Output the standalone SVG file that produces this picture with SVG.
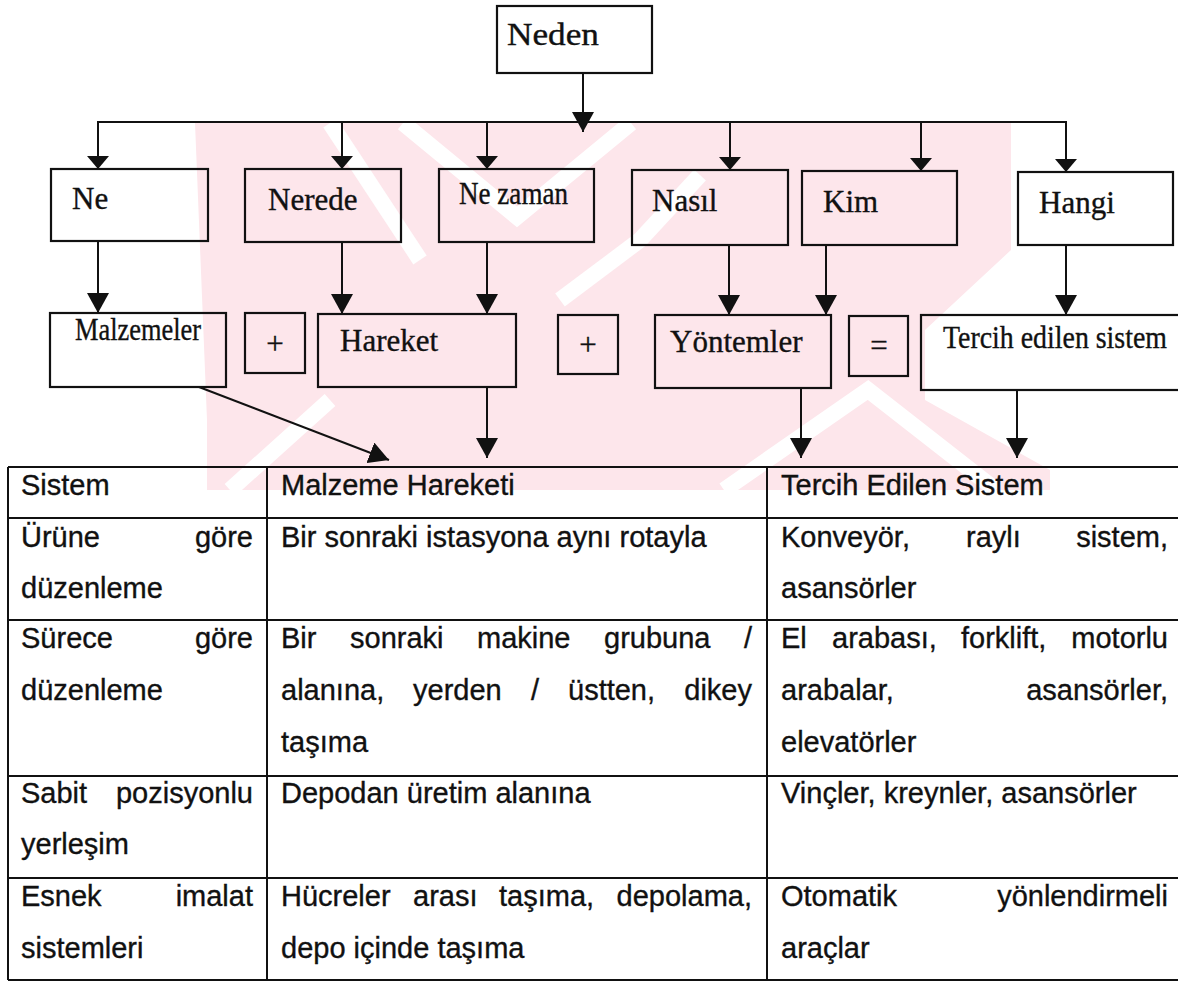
<svg xmlns="http://www.w3.org/2000/svg" width="1178" height="983" viewBox="0 0 1178 983">
<defs>
<style>
.bx{fill:none;stroke:#111;stroke-width:2.2}
.ln{fill:none;stroke:#111;stroke-width:2}
.tl{fill:none;stroke:#111;stroke-width:2}
.t{font-family:"Liberation Serif","Times New Roman",serif;fill:#111;font-size:31px;stroke:#111;stroke-width:0.35}
.a{font-family:"Liberation Sans",Arial,sans-serif;fill:#111;font-size:29px;stroke:#111;stroke-width:0.35}
.e{text-anchor:end}
.m{text-anchor:middle}
.wm{fill:#fde6eb}
.ws{fill:none;stroke:#fff;stroke-width:16}
</style>
<marker id="ah" markerUnits="userSpaceOnUse" markerWidth="20" markerHeight="22" viewBox="0 0 20 22" refX="20" refY="11" orient="auto">
<path d="M0,0 L20,11 L0,22 Z" fill="#111"/>
</marker>
<marker id="ahs" markerUnits="userSpaceOnUse" markerWidth="13" markerHeight="22" viewBox="0 0 13 22" refX="13" refY="11" orient="auto">
<path d="M0,0 L13,11 L0,22 Z" fill="#111"/>
</marker>
</defs>
<rect width="1178" height="983" fill="#fff"/>
<g id="watermark">
<polygon class="wm" points="195,123 1011,123 1011,250 925,330 925,400 1050,470 1050,490 207,490 207,420"/>
<polyline class="ws" points="403,123 517,217 631,123"/>
<polyline class="ws" points="724,490 868,390 996,490"/>
<polyline class="ws" points="330,123 420,260"/>
<polyline class="ws" points="560,300 640,240 700,175"/>
<polyline class="ws" points="230,490 330,400"/>
</g>
<g id="connectors">
<line class="ln" x1="583" y1="73" x2="583" y2="132" marker-end="url(#ah)"/>
<polyline class="ln" points="98,169 98,122 1066,122 1066,172"/>
<line class="ln" x1="98" y1="122" x2="98" y2="169" marker-end="url(#ahs)"/>
<line class="ln" x1="342" y1="122" x2="342" y2="169" marker-end="url(#ahs)"/>
<line class="ln" x1="487" y1="122" x2="487" y2="169" marker-end="url(#ahs)"/>
<line class="ln" x1="730" y1="122" x2="730" y2="170" marker-end="url(#ahs)"/>
<line class="ln" x1="921" y1="122" x2="921" y2="171" marker-end="url(#ahs)"/>
<line class="ln" x1="1066" y1="122" x2="1066" y2="172" marker-end="url(#ahs)"/>
<line class="ln" x1="98" y1="241" x2="98" y2="313" marker-end="url(#ah)"/>
<line class="ln" x1="342" y1="242" x2="342" y2="314" marker-end="url(#ah)"/>
<line class="ln" x1="487" y1="242" x2="487" y2="314" marker-end="url(#ah)"/>
<line class="ln" x1="729" y1="245" x2="729" y2="315" marker-end="url(#ah)"/>
<line class="ln" x1="826" y1="245" x2="826" y2="315" marker-end="url(#ah)"/>
<line class="ln" x1="1066" y1="245" x2="1066" y2="315" marker-end="url(#ah)"/>
<line class="ln" x1="487" y1="387" x2="487" y2="458" marker-end="url(#ah)"/>
<line class="ln" x1="801" y1="388" x2="801" y2="458" marker-end="url(#ah)"/>
<line class="ln" x1="1017" y1="390" x2="1017" y2="458" marker-end="url(#ah)"/>
<line class="ln" x1="199" y1="387" x2="389" y2="460" marker-end="url(#ah)"/>
</g>
<g id="n-neden"><rect class="bx" x="497" y="6" width="155" height="67"/><text class="t" x="507" y="45" font-size="33" textLength="92" lengthAdjust="spacingAndGlyphs">Neden</text></g>
<g id="n-ne"><rect class="bx" x="51" y="169" width="157" height="72"/><text class="t" x="72" y="209">Ne</text></g>
<g id="n-nerede"><rect class="bx" x="245" y="169" width="156" height="73"/><text class="t" x="268" y="210">Nerede</text></g>
<g id="n-nezaman"><rect class="bx" x="439" y="169" width="155" height="73"/><text class="t" x="459" y="204" font-size="26" textLength="109" lengthAdjust="spacingAndGlyphs">Ne zaman</text></g>
<g id="n-nasil"><rect class="bx" x="632" y="170" width="156" height="75"/><text class="t" x="652" y="211">Nasıl</text></g>
<g id="n-kim"><rect class="bx" x="802" y="171" width="155" height="74"/><text class="t" x="823" y="212">Kim</text></g>
<g id="n-hangi"><rect class="bx" x="1018" y="172" width="155" height="73"/><text class="t" x="1039" y="213">Hangi</text></g>
<g id="n-malzemeler"><rect class="bx" x="50" y="313" width="176" height="74"/><text class="t" x="75" y="340" font-size="25" textLength="126" lengthAdjust="spacingAndGlyphs">Malzemeler</text></g>
<g id="n-plus1"><rect class="bx" x="245" y="313" width="60" height="60"/><text class="t m" x="275" y="354" font-size="34">+</text></g>
<g id="n-hareket"><rect class="bx" x="318" y="314" width="198" height="73"/><text class="t" x="340" y="351">Hareket</text></g>
<g id="n-plus2"><rect class="bx" x="558" y="315" width="60" height="59"/><text class="t m" x="588" y="355" font-size="34">+</text></g>
<g id="n-yontemler"><rect class="bx" x="655" y="315" width="176" height="73"/><text class="t" x="670" y="352">Yöntemler</text></g>
<g id="n-esit"><rect class="bx" x="849" y="316" width="59" height="60"/><text class="t m" x="879" y="356" font-size="34">=</text></g>
<g id="n-tercih"><rect class="bx" x="921" y="315" width="270" height="75"/><text class="t" x="943" y="348" font-size="28" textLength="224" lengthAdjust="spacingAndGlyphs">Tercih edilen sistem</text></g>
<g id="table">
<line class="tl" x1="8" y1="467" x2="1178" y2="467"/>
<line class="tl" x1="8" y1="518" x2="1178" y2="518"/>
<line class="tl" x1="8" y1="620" x2="1178" y2="620"/>
<line class="tl" x1="8" y1="776" x2="1178" y2="776"/>
<line class="tl" x1="8" y1="878" x2="1178" y2="878"/>
<line class="tl" x1="8" y1="980" x2="1178" y2="980"/>
<line class="tl" x1="8" y1="467" x2="8" y2="980"/>
<line class="tl" x1="267" y1="467" x2="267" y2="980"/>
<line class="tl" x1="767" y1="467" x2="767" y2="980"/>
<text class="a" x="21" y="495">Sistem</text>
<text class="a" x="281" y="495">Malzeme Hareketi</text>
<text class="a" x="781" y="495">Tercih Edilen Sistem</text>
<text class="a" x="21" y="547">Ürüne</text><text class="a e" x="253" y="547">göre</text>
<text class="a" x="21" y="598">düzenleme</text>
<text class="a" x="281" y="547">Bir sonraki istasyona aynı rotayla</text>
<text class="a" x="781" y="547">Konveyör,</text><text class="a" x="966" y="547">raylı</text><text class="a e" x="1168" y="547">sistem,</text>
<text class="a" x="781" y="598">asansörler</text>
<text class="a" x="21" y="648">Sürece</text><text class="a e" x="253" y="648">göre</text>
<text class="a" x="21" y="700">düzenleme</text>
<text class="a" x="281" y="648">Bir</text><text class="a" x="350" y="648">sonraki</text><text class="a" x="477" y="648">makine</text><text class="a" x="604" y="648">grubuna</text><text class="a e" x="752" y="648">/</text>
<text class="a" x="281" y="700">alanına,</text><text class="a" x="413" y="700">yerden</text><text class="a" x="531" y="700">/</text><text class="a" x="568" y="700">üstten,</text><text class="a e" x="752" y="700">dikey</text>
<text class="a" x="281" y="752">taşıma</text>
<text class="a" x="781" y="648">El</text><text class="a" x="832" y="648">arabası,</text><text class="a" x="961" y="648">forklift,</text><text class="a e" x="1168" y="648">motorlu</text>
<text class="a" x="781" y="700">arabalar,</text><text class="a e" x="1168" y="700">asansörler,</text>
<text class="a" x="781" y="752">elevatörler</text>
<text class="a" x="21" y="803">Sabit</text><text class="a e" x="253" y="803">pozisyonlu</text>
<text class="a" x="21" y="854">yerleşim</text>
<text class="a" x="281" y="803">Depodan üretim alanına</text>
<text class="a" x="781" y="803">Vinçler, kreynler, asansörler</text>
<text class="a" x="21" y="906">Esnek</text><text class="a e" x="253" y="906">imalat</text>
<text class="a" x="21" y="958">sistemleri</text>
<text class="a" x="281" y="906">Hücreler</text><text class="a" x="413" y="906">arası</text><text class="a" x="499" y="906">taşıma,</text><text class="a e" x="752" y="906">depolama,</text>
<text class="a" x="281" y="958">depo içinde taşıma</text>
<text class="a" x="781" y="906">Otomatik</text><text class="a e" x="1168" y="906">yönlendirmeli</text>
<text class="a" x="781" y="958">araçlar</text>
</g>
</svg>
